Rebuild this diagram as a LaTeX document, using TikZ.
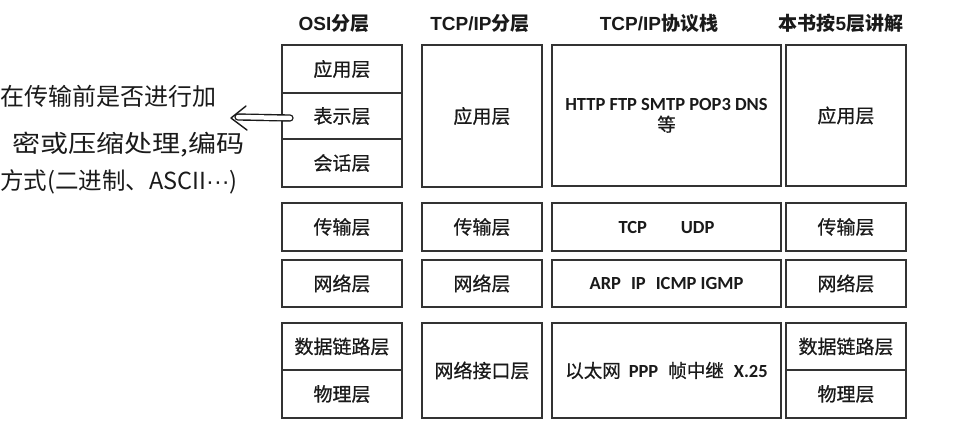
\documentclass[tikz,border=0pt]{standalone}
\usepackage{fontspec}
\setmainfont{Carlito}
\newfontfamily\cjk{Noto Sans CJK SC}
\newfontfamily\cjkm{Noto Sans CJK SC}[FakeBold=0.7]
\newfontfamily\headfont{Liberation Sans}
\usetikzlibrary{arrows.meta}
\definecolor{ink}{HTML}{1A1A1A}
\definecolor{frame}{HTML}{333333}
\tikzset{
  layer/.style={draw=frame, line width=1.4pt, rectangle, inner sep=0pt, outer sep=0pt,
    text=ink, align=center, font=\cjkm\fontsize{19}{22}\selectfont},
  proto/.style={layer, font=\fontsize{18.5}{21}\selectfont\bfseries},
  colhead/.style={text=ink, inner sep=0pt, font=\fontsize{19}{22}\selectfont\bfseries},
  note/.style={anchor=west, text=ink, inner sep=0pt, font=\cjk\fontsize{24}{28}\selectfont},
  narrow/.style={minimum width=120pt},
  wide/.style={minimum width=229pt},
  pen/.style={draw=ink, line width=1.4pt, line cap=round, line join=round},
}
\begin{document}
\begin{tikzpicture}[x=1pt, y=-1pt]
  \useasboundingbox[fill=white] (0,0) rectangle (962,426);

  % column headings
  \node[colhead] (h1) at (334,23) {{\headfont OSI}{\cjk 分层}};
  \node[colhead] (h2) at (480,23) {{\headfont TCP/IP}{\cjk 分层}};
  \node[colhead] (h3) at (659,23) {{\headfont TCP/IP}{\cjk 协议栈}};
  \node[colhead] (h4) at (841,23) {{\cjk 本书按}{\headfont 5}{\cjk 层讲解}};

  % OSI seven layers
  \node[layer, narrow, minimum height=48pt] (oapp) at (342,69)    {应用层};
  \node[layer, narrow, minimum height=46pt] (opre) at (342,116)   {表示层};
  \node[layer, narrow, minimum height=48pt] (oses) at (342,163)   {会话层};
  \node[layer, narrow, minimum height=48pt] (otra) at (342,227)   {传输层};
  \node[layer, narrow, minimum height=47pt] (onet) at (342,283.5) {网络层};
  \node[layer, narrow, minimum height=47pt] (odl)  at (342,346.5) {数据链路层};
  \node[layer, narrow, minimum height=48pt] (ophy) at (342,394)   {物理层};

  % TCP/IP four layers
  \node[layer, narrow, minimum height=142pt] (tapp) at (482,116)   {应用层};
  \node[layer, narrow, minimum height=48pt]  (ttra) at (482,227)   {传输层};
  \node[layer, narrow, minimum height=47pt]  (tnet) at (482,283.5) {网络层};
  \node[layer, narrow, minimum height=95pt]  (tif)  at (482,370.5) {网络接口层};

  % protocol stack
  \node[proto, wide, minimum height=141pt] (sapp) at (666.5,115.5)
    {HTTP FTP SMTP POP3 DNS\\{\cjkm\mdseries 等}};
  \node[proto, wide, minimum height=48pt] (stra) at (666.5,227)
    {TCP\hspace{34pt}UDP};
  \node[proto, wide, minimum height=47pt] (snet) at (666.5,283.5)
    {ARP\hspace{10pt}IP\hspace{10pt}ICMP IGMP};
  \node[proto, wide, minimum height=95pt] (sif) at (666.5,370.5)
    {{\cjkm\mdseries 以太网}\hspace{8pt}PPP\hspace{10pt}{\cjkm\mdseries 帧中继}\hspace{10pt}X.25};

  % five-layer model used in the book
  \node[layer, narrow, minimum height=141pt] (fapp) at (846,115.5) {应用层};
  \node[layer, narrow, minimum height=48pt]  (ftra) at (846,227)   {传输层};
  \node[layer, narrow, minimum height=47pt]  (fnet) at (846,283.5) {网络层};
  \node[layer, narrow, minimum height=47pt]  (fdl)  at (846,346.5) {数据链路层};
  \node[layer, narrow, minimum height=48pt]  (fphy) at (846,394)   {物理层};

  % handwritten remark on the presentation layer
  \node[note] (n1) at (0,96)   {在传输前是否进行加};
  \node[note] (n2) at (12,145) {\scalebox{1.17}[1]{密或压缩处理,编码}};
  \node[note, font=\cjk\fontsize{23.5}{28}\selectfont] (n3) at (0,182)
    {方式(二进制、ASCII{\headfont\mdseries ···})};

  % double-stroke arrow pointing from the layer to the remark
  \coordinate (tip) at (231,118);
  \coordinate (shaftend) at (238,117);
  \draw[pen, double=white, double distance=4.5pt]
    ([xshift=8pt,yshift=-2pt]opre.west) -- (shaftend);
  \draw[pen] ([shift={(15,-12)}]tip) -- (tip) -- ([shift={(16,12)}]tip);
\end{tikzpicture}
\end{document}
